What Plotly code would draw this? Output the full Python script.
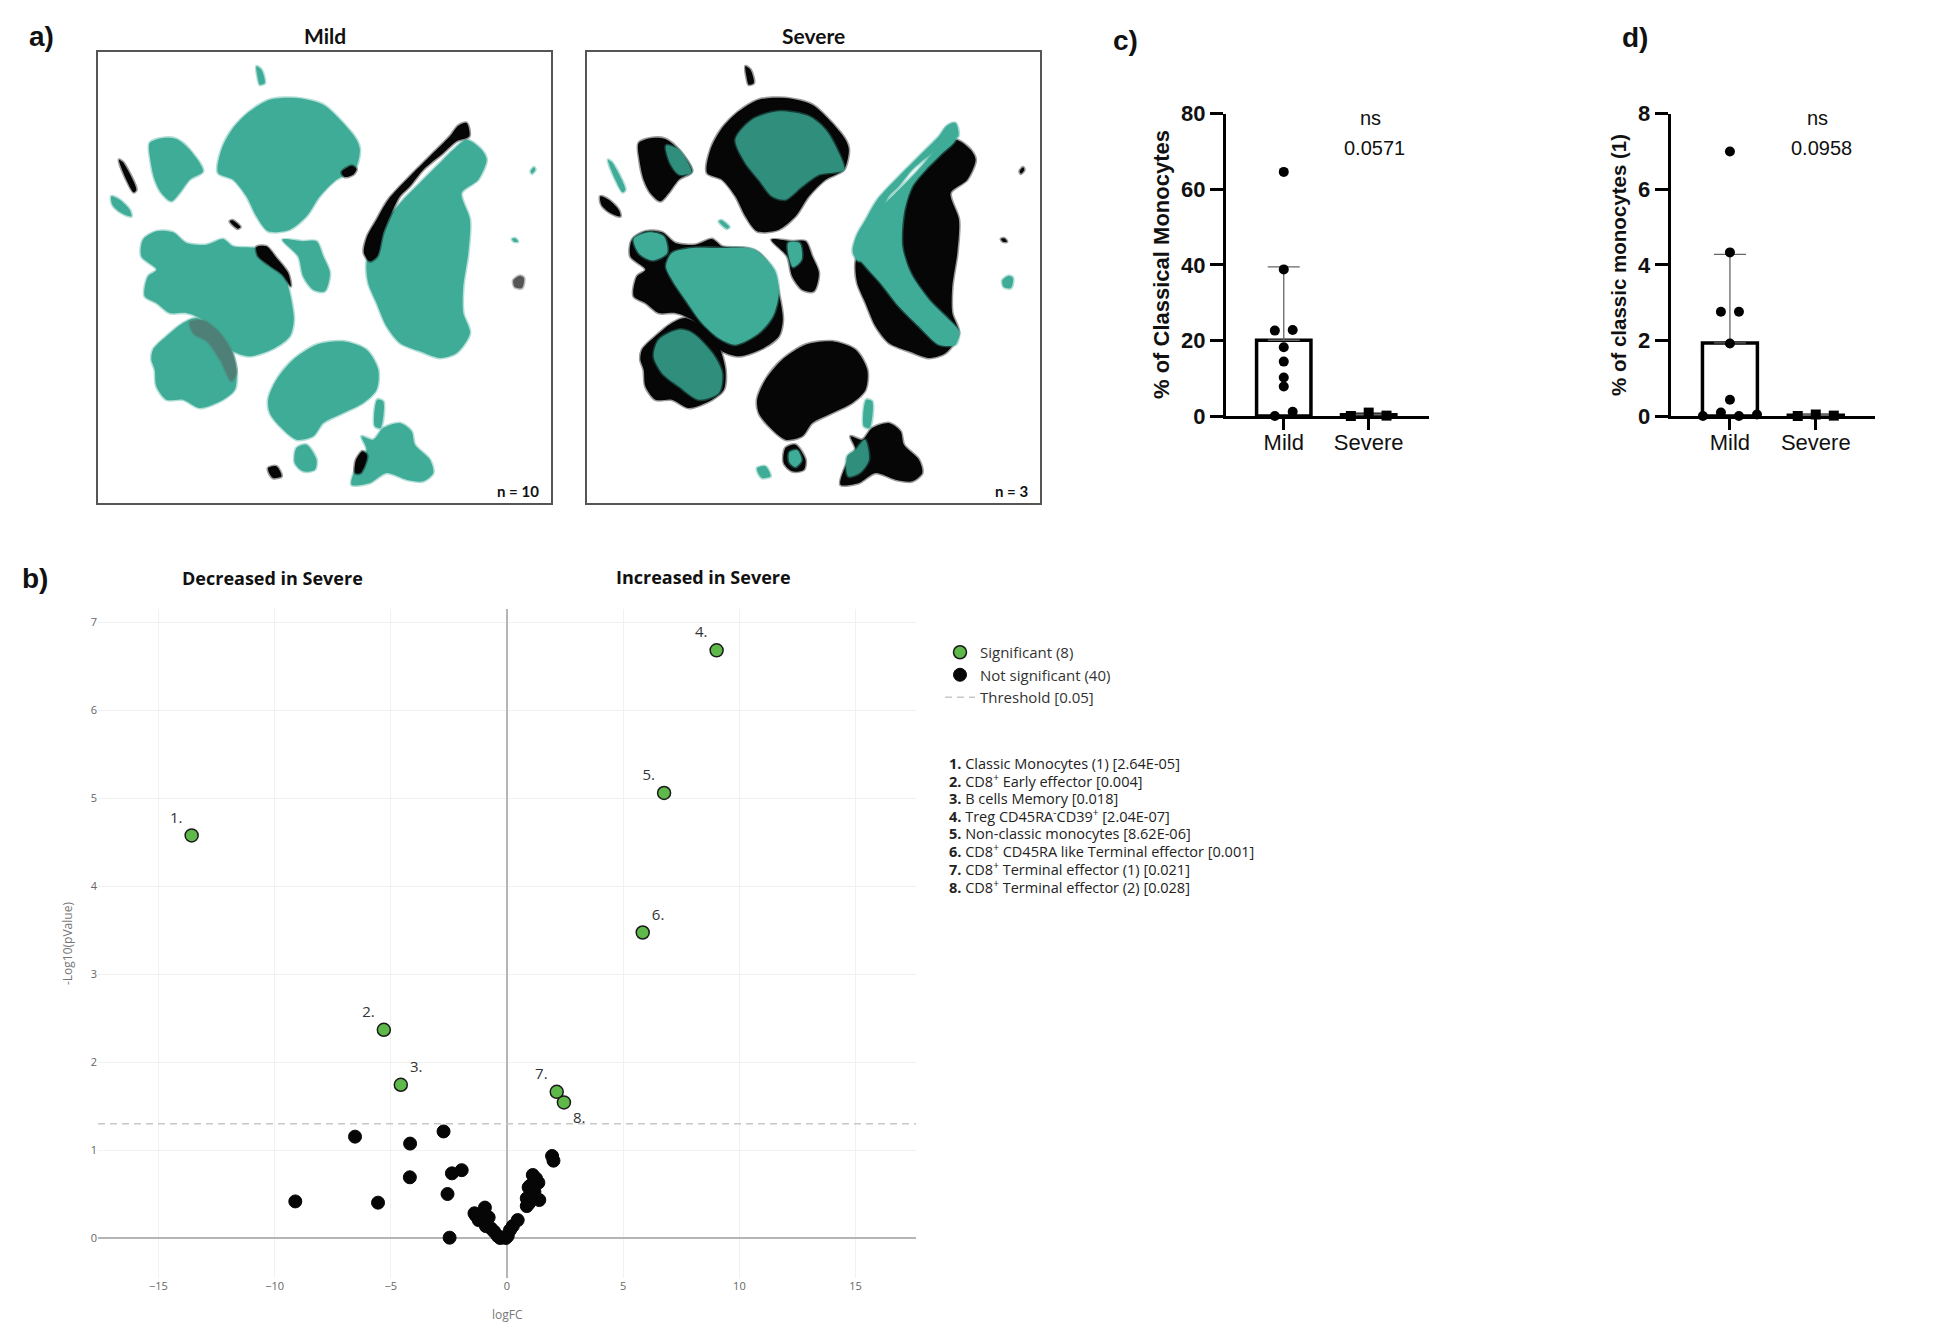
import numpy as np
import plotly.graph_objects as go

W, H = 1949, 1343
TEAL = "#3FAC98"
TEAL_MIX = "#2F8E7C"
BLACK = "#060606"
GREEN = "#5FB94A"

def px(x):
    return x / W

def py(y):
    return 1 - y / H

def rgba(hex_col, a):
    h = hex_col.lstrip("#")
    r, g, b = int(h[0:2], 16), int(h[2:4], 16), int(h[4:6], 16)
    return "rgba(%d,%d,%d,%.2f)" % (r, g, b, a)

# ---------------- panel a : UMAP cluster outlines (UMAP coords, arbitrary units) ----------------
UMAP_X_RANGE = [25, 1383]
UMAP_Y_RANGE = [1390, 37]

cl_top = [(395,330),(430,265),(480,215),(540,180),(620,175),(700,195),(760,250),(800,300),(810,330),(795,390),(740,420),(690,470),(650,530),(600,570),(535,575),(500,530),(470,470),(430,420),(385,400)]
cl_top_edge = [(755,398),(785,378),(800,388),(790,405),(765,412)]
cl_top_core = [(470,300),(520,240),(600,215),(690,230),(740,270),(775,330),(795,390),(720,405),(670,440),(620,480),(580,470),(540,420),(500,370)]
cl_upleft = [(180,310),(220,295),(260,298),(300,330),(340,395),(300,420),(270,460),(245,485),(215,460),(195,420),(182,360)]
cl_upleft_core = [(262,318),(300,330),(338,398),(302,405),(275,372)]
cl_left = [(160,600),(200,575),(250,578),(290,610),(350,615),(400,598),(430,620),(500,625),(540,640),(580,690),(600,760),(612,840),(600,890),(555,925),(480,950),(430,935),(380,880),(340,840),(290,820),(240,820),(200,790),(165,770),(175,710),(200,690),(155,650)]
cl_left_edge = [(500,622),(530,620),(560,655),(595,700),(603,740),(578,705),(540,678),(505,650)]
cl_left_core = [(280,640),(340,625),(420,625),(500,625),(530,632),(588,692),(600,760),(582,830),(540,880),(470,915),(420,895),(370,850),(320,780),(280,720),(262,680)]
cl_left_blob = [(165,598),(210,578),(255,590),(265,640),(222,662),(182,642)]
cl_lowleft = [(190,930),(230,890),(280,850),(320,835),(380,870),(420,920),(440,990),(435,1050),(400,1080),(330,1105),(280,1080),(230,1080),(200,1040),(195,990),(185,960)]
cl_lowleft_speck = [(300,848),(340,842),(390,880),(428,940),(440,1000),(425,1025),(392,962),(352,905),(312,882)]
cl_lowleft_core = [(240,900),(300,870),(340,880),(400,940),(430,1000),(420,1060),(360,1080),(300,1040),(250,1000),(225,950)]
cl_right = [(830,670),(850,600),(890,540),(940,480),(990,430),(1040,380),(1090,330),(1130,300),(1175,330),(1190,360),(1165,420),(1115,460),(1140,540),(1135,640),(1120,740),(1120,820),(1140,880),(1100,940),(1050,955),(990,935),(930,910),(890,860),(860,790),(835,730)]
cl_right_band = [(822,640),(832,590),(860,540),(895,480),(960,410),(1020,350),(1080,290),(1105,258),(1130,250),(1138,290),(1100,305),(1060,340),(1000,390),(960,440),(930,470),(905,520),(880,580),(862,650),(840,665)]
cl_right_strip = [(825,630),(850,570),(890,520),(940,470),(1000,410),(1060,340),(1100,265),(1125,252),(1130,300),(1090,340),(1040,390),(1000,440),(975,520),(970,620),(995,700),(1050,780),(1110,840),(1140,875),(1130,915),(1080,915),(1020,860),(960,800),(905,730),(860,680)]
cl_bottom = [(535,1080),(560,1020),(610,960),(680,915),(760,905),(830,930),(865,990),(860,1050),(820,1090),(760,1120),(700,1150),(670,1190),(620,1200),(570,1160),(540,1120)]
cl_bottom_lobe = [(620,1225),(650,1215),(680,1260),(675,1290),(640,1295),(615,1270)]
cl_bottom_lobe_core = [(632,1238),(655,1232),(668,1262),(650,1282),(632,1268)]
cl_botright = [(785,1335),(800,1280),(830,1230),(815,1190),(850,1200),(880,1165),(930,1150),(965,1175),(975,1215),(1020,1260),(1030,1300),(1000,1325),(950,1320),(890,1300),(840,1330)]
cl_botright_edge = [(798,1262),(818,1235),(832,1248),(812,1300),(796,1300)]
cl_botright_core = [(805,1250),(830,1230),(858,1200),(870,1260),(842,1300),(808,1310)]
cl_streak_br = [(855,1160),(862,1080),(880,1085),(872,1165)]
cl_middle = [(578,600),(640,605),(680,605),(700,650),(720,700),(705,755),(670,750),(640,710),(625,650)]
cl_middle_core = [(628,610),(662,610),(668,660),(642,682)]
cl_blob_left = [(65,470),(90,480),(120,510),(125,530),(95,520),(68,495)]
cl_streak_left = [(88,360),(100,368),(140,450),(132,458),(110,420)]
cl_streak_top = [(500,80),(515,90),(525,130),(510,135),(503,110)]
cl_blob_bottom = [(535,1285),(560,1280),(575,1310),(550,1315),(538,1300)]
cl_streak_mid = [(420,545),(428,542),(452,562),(444,567)]
cl_spot1 = [(1322,395),(1332,383),(1336,390),(1326,402)]
cl_spot2 = [(1266,598),(1276,596),(1284,606),(1272,606)]
cl_spot3 = [(1270,722),(1290,708),(1302,715),(1296,745),(1274,742)]

mild_layers = [
    (cl_top, TEAL), (cl_top_edge, BLACK), (cl_upleft, TEAL), (cl_left, TEAL), (cl_left_edge, BLACK),
    (cl_lowleft, TEAL), (cl_lowleft_speck, "#4f8077"), (cl_right, TEAL), (cl_right_band, BLACK),
    (cl_bottom, TEAL), (cl_bottom_lobe, TEAL), (cl_botright, TEAL), (cl_botright_edge, BLACK),
    (cl_streak_br, TEAL), (cl_middle, TEAL), (cl_blob_left, TEAL), (cl_streak_left, BLACK),
    (cl_streak_top, TEAL), (cl_blob_bottom, BLACK), (cl_streak_mid, BLACK),
    (cl_spot1, TEAL), (cl_spot2, TEAL), (cl_spot3, "#555555"),
]
severe_layers = [
    (cl_top, BLACK), (cl_top_core, TEAL_MIX), (cl_upleft, BLACK), (cl_upleft_core, TEAL_MIX),
    (cl_left, BLACK), (cl_left_core, TEAL), (cl_left_blob, TEAL), (cl_lowleft, BLACK), (cl_lowleft_core, TEAL_MIX),
    (cl_right, BLACK), (cl_right_band, TEAL), (cl_right_strip, TEAL),
    (cl_bottom, BLACK), (cl_bottom_lobe, BLACK), (cl_bottom_lobe_core, TEAL),
    (cl_botright, BLACK), (cl_botright_core, TEAL_MIX), (cl_streak_br, TEAL),
    (cl_middle, BLACK), (cl_middle_core, TEAL), (cl_blob_left, BLACK), (cl_streak_left, TEAL),
    (cl_streak_top, BLACK), (cl_blob_bottom, TEAL), (cl_streak_mid, TEAL),
    (cl_spot1, BLACK), (cl_spot2, BLACK), (cl_spot3, TEAL),
]
umap_titles = ["Mild", "Severe"]
umap_n = ["n = 10", "n = 3"]

# ---------------- panel b : volcano ----------------
sig_x = [-13.57, -5.30, -4.57, 9.02, 6.76, 5.84, 2.14, 2.45]
sig_y = [4.578, 2.37, 1.745, 6.68, 5.06, 3.475, 1.665, 1.545]
sig_labels = ["1.", "2.", "3.", "4.", "5.", "6.", "7.", "8."]
sig_names = ["Classic Monocytes (1)", "CD8<sup>+</sup> Early effector", "B cells Memory",
             "Treg CD45RA<sup>-</sup>CD39<sup>+</sup>", "Non-classic monocytes",
             "CD8<sup>+</sup> CD45RA like Terminal effector", "CD8<sup>+</sup> Terminal effector (1)",
             "CD8<sup>+</sup> Terminal effector (2)"]
sig_p_text = ["2.64E-05", "0.004", "0.018", "2.04E-07", "8.62E-06", "0.001", "0.021", "0.028"]
label_pos = ["top left", "top left", "top right", "top left", "top left", "top right", "top left", "bottom right"]

ns_x = [-9.11, -6.54, -5.55, -4.17, -4.18, -2.73, -2.37, -1.95, -2.56, -2.47,
        -1.40, -1.34, -0.95, -1.22, -0.79, -0.91, -0.69, -0.55, -0.40, -0.30, -0.19, -0.05, 0.03, 0.13, 0.25, 0.46,
        1.94, 2.00, 1.11, 1.35, 0.93, 1.18, 0.85, 1.03, 1.39, 0.85, 1.00, 1.25, 1.05, 0.95]
ns_y = [0.420, 1.156, 0.406, 1.077, 0.694, 1.215, 0.739, 0.775, 0.504, 0.008,
        0.285, 0.260, 0.350, 0.208, 0.239, 0.140, 0.114, 0.076, 0.027, 0.005, 0.011, 0.005, 0.027, 0.095, 0.140, 0.208,
        0.936, 0.883, 0.720, 0.633, 0.580, 0.530, 0.455, 0.436, 0.436, 0.367, 0.600, 0.680, 0.500, 0.400]
p_threshold = 0.05
volc_xrange = [-17.6, 17.6]
volc_yrange = [-0.45, 7.15]
volc_xticks = [-15, -10, -5, 0, 5, 10, 15]
volc_yticks = [0, 1, 2, 3, 4, 5, 6, 7]

# ---------------- panels c, d : bar + dots ----------------
groups = ["Mild", "Severe"]
c_mild = [64.6, 38.8, 22.6, 22.75, 18.2, 14.4, 10.2, 7.8, 0.0, 1.1]
c_severe = [0.0, 0.9, 0.1]
c_p = "0.0571"
d_mild = [7.0, 4.33, 2.76, 2.76, 1.92, 0.43, 0.0, 0.09, 0.0, 0.04]
d_severe = [0.0, 0.04, 0.01]
d_p = "0.0958"

fig = go.Figure()

# ---- UMAPs ----
for k, layers in enumerate([mild_layers, severe_layers]):
    ax = "" if k == 0 else "2"
    for poly, col in layers:
        xs = [p[0] for p in poly] + [poly[0][0]]
        ys = [p[1] for p in poly] + [poly[0][1]]
        fig.add_trace(go.Scatter(x=xs, y=ys, mode="lines", fill="toself", fillcolor=col,
                                 line=dict(color=rgba(col, 0.4), width=3, shape="spline", smoothing=0.8),
                                 hoverinfo="skip", showlegend=False,
                                 xaxis="x" + ax, yaxis="y" + ax))

umap_axis = dict(showticklabels=False, ticks="", showgrid=False, zeroline=False,
                 showline=True, mirror=True, linecolor="#555555", linewidth=1.5)
umap_dom = [(98, 551), (587, 1040)]
fig.update_layout(
    xaxis=dict(domain=[px(umap_dom[0][0]), px(umap_dom[0][1])], range=UMAP_X_RANGE, anchor="y", **umap_axis),
    yaxis=dict(domain=[py(503), py(52)], range=UMAP_Y_RANGE, anchor="x", **umap_axis),
    xaxis2=dict(domain=[px(umap_dom[1][0]), px(umap_dom[1][1])], range=UMAP_X_RANGE, anchor="y2", **umap_axis),
    yaxis2=dict(domain=[py(503), py(52)], range=UMAP_Y_RANGE, anchor="x2", **umap_axis),
)

annotations = []

def note(x, y, text, font, xanchor="center", yanchor="middle", **kw):
    annotations.append(dict(x=px(x), y=py(y), xref="paper", yref="paper", text=text, showarrow=False,
                            xanchor=xanchor, yanchor=yanchor, font=font, **kw))

for k in range(2):
    x0, x1 = umap_dom[k]
    note((x0 + x1) / 2, 35, "<b>%s</b>" % umap_titles[k], dict(family="Lato", size=21, color="#111"))
    note(x1 - 10, 491, "<b>%s</b>" % umap_n[k], dict(family="Lato", size=15, color="#111"), xanchor="right")

# ---- volcano ----
thr = -np.log10(p_threshold)
fig.add_trace(go.Scatter(x=volc_xrange, y=[thr, thr], mode="lines", name="Threshold [%g]" % p_threshold,
                         line=dict(color="#c8c8c8", width=1.5, dash="7px,5px"),
                         xaxis="x3", yaxis="y3", hoverinfo="skip", showlegend=True, legendrank=3))
fig.add_trace(go.Scatter(x=ns_x, y=ns_y, mode="markers", name="Not significant (%d)" % len(ns_x),
                         marker=dict(color=BLACK, size=13, line=dict(color=BLACK, width=1)),
                         xaxis="x3", yaxis="y3", showlegend=True, legendrank=2))
fig.add_trace(go.Scatter(x=sig_x, y=sig_y, mode="markers+text", name="Significant (%d)" % len(sig_x),
                         text=sig_labels, textposition=label_pos,
                         textfont=dict(family="Open Sans", size=15, color="#333"),
                         marker=dict(color=GREEN, size=13, line=dict(color="#1a1a1a", width=1.5)),
                         xaxis="x3", yaxis="y3", showlegend=True, legendrank=1))

fig.update_layout(
    xaxis3=dict(domain=[px(98), px(916)], range=volc_xrange, anchor="y3", tickvals=volc_xticks,
                showgrid=True, gridcolor="#f1f1f1", gridwidth=1, zeroline=True, zerolinecolor="#b5b5b5",
                zerolinewidth=2, showline=False, ticks="",
                tickfont=dict(family="Open Sans", size=11, color="#666")),
    yaxis3=dict(domain=[py(1278), py(609)], range=volc_yrange, anchor="x3", tickvals=volc_yticks,
                showgrid=True, gridcolor="#f1f1f1", gridwidth=1, zeroline=True, zerolinecolor="#b5b5b5",
                zerolinewidth=2, showline=False, ticks="",
                tickfont=dict(family="Open Sans", size=11, color="#666")),
)
note(507, 1314, "logFC", dict(family="Open Sans", size=12, color="#777"))
note(67, 944, "-Log10(pValue)", dict(family="Open Sans", size=12, color="#777"), textangle=-90)
note(272, 578, "<b>Decreased in Severe</b>", dict(family="Open Sans", size=18, color="#111"))
note(703, 577, "<b>Increased in Severe</b>", dict(family="Open Sans", size=18, color="#111"))
for i, (lab, nm, pv) in enumerate(zip(sig_labels, sig_names, sig_p_text)):
    note(947, 763 + i * 17.6, "<b>%s</b> %s [%s]" % (lab, nm, pv),
         dict(family="Open Sans", size=14.5, color="#222"), xanchor="left")

# ---- bars c & d ----
def swarm_offsets(vals, px_per_unit, thr_px=8.0, step=0.21):
    vals = np.asarray(vals, dtype=float)
    order = np.argsort(vals, kind="stable")
    groups_, cur = [], [order[0]]
    for a, b in zip(order[:-1], order[1:]):
        if (vals[b] - vals[a]) * px_per_unit < thr_px:
            cur.append(b)
        else:
            groups_.append(cur)
            cur = [b]
    groups_.append(cur)
    off = np.zeros(len(vals))
    for g in groups_:
        g = sorted(g)
        n = len(g)
        for k, idx in enumerate(g):
            off[idx] = (k - (n - 1) / 2) * step
    return off

bar_xdom = {"4": (1226, 1429), "5": (1670.7, 1875)}
bar_top, bar_bot = 113.7, 416
bar_sets = [("4", c_mild, c_severe, 80, 20, "% of Classical Monocytes", c_p, (-0.68, 1.71), 1162, 22),
            ("5", d_mild, d_severe, 8, 2, "% of classic monocytes (1)", d_p, (-0.69, 1.69), 1619, 20.5)]
for ax, mild, sev, ymax, dt, ytitle, pval, xr, title_x, title_size in bar_sets:
    ppu = (bar_bot - bar_top) / ymax
    means = [np.mean(mild), np.mean(sev)]
    sds = [np.std(mild, ddof=1), np.std(sev, ddof=1)]
    fig.add_trace(go.Bar(x=[0, 1], y=means, width=0.64, marker=dict(color="white", line=dict(color="black", width=3.5)),
                         error_y=dict(type="data", array=sds, arrayminus=[0, 0], symmetric=False,
                                      color="#666", thickness=1.3, width=16),
                         xaxis="x" + ax, yaxis="y" + ax, showlegend=False, hoverinfo="skip"))
    fig.add_trace(go.Scatter(x=0 + swarm_offsets(mild, ppu), y=mild, mode="markers",
                             marker=dict(symbol="circle", size=10, color="black"), cliponaxis=False,
                             xaxis="x" + ax, yaxis="y" + ax, showlegend=False, hoverinfo="skip"))
    fig.add_trace(go.Scatter(x=1 + swarm_offsets(sev, ppu), y=sev, mode="markers",
                             marker=dict(symbol="square", size=10, color="black"), cliponaxis=False,
                             xaxis="x" + ax, yaxis="y" + ax, showlegend=False, hoverinfo="skip"))
    x0, x1 = bar_xdom[ax]
    fig.update_layout(**{
        "xaxis" + ax: dict(domain=[px(x0), px(x1)], range=list(xr), anchor="y" + ax, tickvals=[0, 1], ticktext=groups,
                           showline=True, linecolor="black", linewidth=3, ticks="outside", ticklen=11, tickwidth=3,
                           tickcolor="black", showgrid=False, zeroline=False, ticklabelstandoff=-6,
                           tickfont=dict(family="Liberation Sans", size=22, color="#111")),
        "yaxis" + ax: dict(domain=[py(bar_bot), py(bar_top)], range=[0, ymax], anchor="x" + ax,
                           tickvals=list(np.arange(0, ymax + dt / 2, dt)),
                           showline=True, linecolor="black", linewidth=3, ticks="outside", ticklen=13, tickwidth=3,
                           tickcolor="black", showgrid=False, zeroline=False,
                           tickfont=dict(family="Liberation Sans", size=22, color="#111", weight="bold")),
    })
    cx = x0 + (1 - xr[0]) / (xr[1] - xr[0]) * (x1 - x0)
    note(cx + 2, 118, "ns", dict(family="Liberation Sans", size=20, color="#111"))
    note(cx + 6, 148, pval, dict(family="Liberation Sans", size=20, color="#111"))
    note(title_x, 265, "<b>%s</b>" % ytitle, dict(family="Liberation Sans", size=title_size, color="#111"),
         textangle=-90)

# ---- panel letters ----
for letter, lx, ly in [("a)", 41, 37), ("b)", 35, 578), ("c)", 1125, 40), ("d)", 1635, 38)]:
    note(lx, ly, "<b>%s</b>" % letter, dict(family="Liberation Sans", size=28, color="#111"))

fig.update_layout(
    width=W, height=H, margin=dict(l=0, r=0, t=0, b=0), template="none",
    paper_bgcolor="white", plot_bgcolor="white",
    annotations=annotations,
    legend=dict(x=px(940), y=py(636), xanchor="left", yanchor="top", bgcolor="rgba(0,0,0,0)",
                font=dict(family="Open Sans", size=15, color="#333"), itemwidth=30, tracegroupgap=0),
)

fig.write_html("out.html", config={"displayModeBar": False},
               post_script="document.body.style.margin='0px';")
